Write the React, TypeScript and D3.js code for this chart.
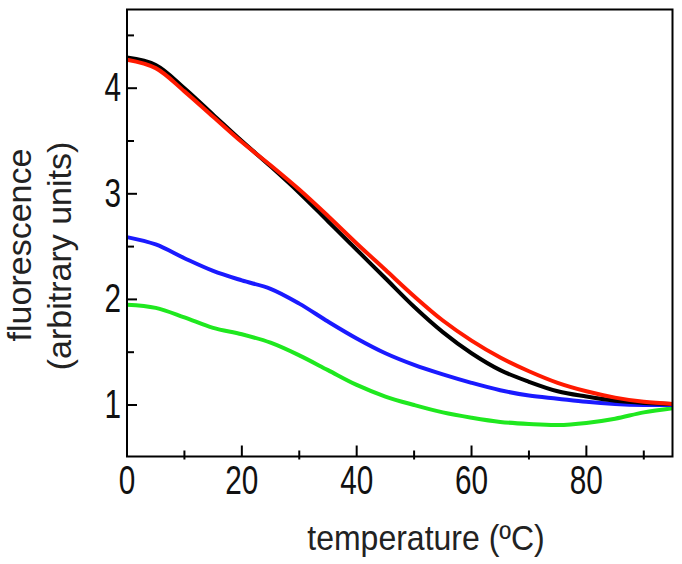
import React from "react";
import * as d3 from "d3";

const temps = [0, 5, 10, 15, 20, 25, 30, 35, 40, 45, 50, 55, 60, 65, 70, 75, 80, 85, 90, 95];
const blackVals = [4.29, 4.22, 4.0, 3.75, 3.5, 3.26, 3.01, 2.74, 2.47, 2.2, 1.93, 1.69, 1.49, 1.33, 1.22, 1.13, 1.08, 1.04, 1.02, 1.01];
const redVals = [4.27, 4.19, 3.97, 3.73, 3.49, 3.27, 3.04, 2.79, 2.53, 2.28, 2.03, 1.8, 1.61, 1.45, 1.32, 1.21, 1.13, 1.07, 1.03, 1.01];
const blueVals = [2.59, 2.52, 2.39, 2.27, 2.18, 2.1, 1.96, 1.79, 1.63, 1.49, 1.38, 1.29, 1.21, 1.14, 1.09, 1.06, 1.03, 1.01, 1.0, 1.0];
const greenVals = [1.95, 1.92, 1.83, 1.73, 1.67, 1.59, 1.47, 1.33, 1.19, 1.08, 1.0, 0.93, 0.88, 0.84, 0.82, 0.81, 0.83, 0.87, 0.93, 0.97];

const series = [
  { name: "green", values: greenVals, color: "#1fe81f" },
  { name: "blue", values: blueVals, color: "#1a1aff" },
  { name: "black", values: blackVals, color: "#000000" },
  { name: "red", values: redVals, color: "#ff1a00" },
];

const xMajor = [0, 20, 40, 60, 80];
const xMinor = [10, 30, 50, 70, 90];
const yMajor = [1, 2, 3, 4];
const yMinor = [1.5, 2.5, 3.5, 4.5];

const W = 682;
const H = 564;
const left = 127;
const right = 672.5;
const top = 9.5;
const bottom = 456.5;

const FONT = "'Liberation Sans', Arial, sans-serif";

export default function App() {
  const x = d3.scaleLinear().domain([0, 95]).range([left, right]);
  const y = d3.scaleLinear().domain([1, 4]).range([405, 88.2]);
  const line = d3
    .line<number>()
    .x((_, i) => x(temps[i]))
    .y((d) => y(d))
    .curve(d3.curveCatmullRom.alpha(0.5));

  return (
    <svg width={W} height={H} style={{ position: "absolute", left: 0, top: 0, background: "#fff" }}>
      <rect x={0} y={0} width={W} height={H} fill="#fff" />
      {series.map((s) => (
        <path key={s.name} d={line(s.values) || ""} fill="none" stroke={s.color} strokeWidth={4} strokeLinejoin="round" />
      ))}
      <path d={`M${left},${top}H${right}V${bottom}H${left}Z`} fill="none" stroke="#000" strokeWidth={2} />
      {yMajor.map((v) => (
        <line key={"ym" + v} x1={left} x2={left + 10} y1={y(v)} y2={y(v)} stroke="#000" strokeWidth={2} />
      ))}
      {yMinor.map((v) => (
        <line key={"yn" + v} x1={left} x2={left + 7} y1={y(v)} y2={y(v)} stroke="#000" strokeWidth={2} />
      ))}
      {xMajor.map((v) => (
        <line key={"xm" + v} x1={x(v)} x2={x(v)} y1={bottom} y2={bottom - 11} stroke="#000" strokeWidth={2} />
      ))}
      {xMinor.map((v) => (
        <line key={"xn" + v} x1={x(v)} x2={x(v)} y1={bottom + 3} y2={bottom - 6} stroke="#000" strokeWidth={2} />
      ))}
      {yMajor.map((v) => (
        <g key={"yl" + v} transform={`translate(${left - 6},${y(v) + 13}) scale(0.85,1.15)`}>
          <text textAnchor="end" fontFamily={FONT} fontSize={35} fill="#111">
            {v}
          </text>
        </g>
      ))}
      {xMajor.map((v) => (
        <g key={"xl" + v} transform={`translate(${x(v)},${494}) scale(0.85,1.15)`}>
          <text textAnchor="middle" fontFamily={FONT} fontSize={35} fill="#111">
            {v}
          </text>
        </g>
      ))}
      <g transform={`translate(426,550) scale(1,1.1)`}>
        <text textAnchor="middle" fontFamily={FONT} fontSize={32} fill="#222">
          temperature (ºC)
        </text>
      </g>
      <g transform={`translate(31,245) rotate(-90) scale(1,0.95)`}>
        <text textAnchor="middle" fontFamily={FONT} fontSize={34} fill="#222">
          fluorescence
        </text>
      </g>
      <g transform={`translate(71,256) rotate(-90) scale(1,0.95)`}>
        <text textAnchor="middle" fontFamily={FONT} fontSize={34} fill="#222">
          (arbitrary units)
        </text>
      </g>
    </svg>
  );
}
